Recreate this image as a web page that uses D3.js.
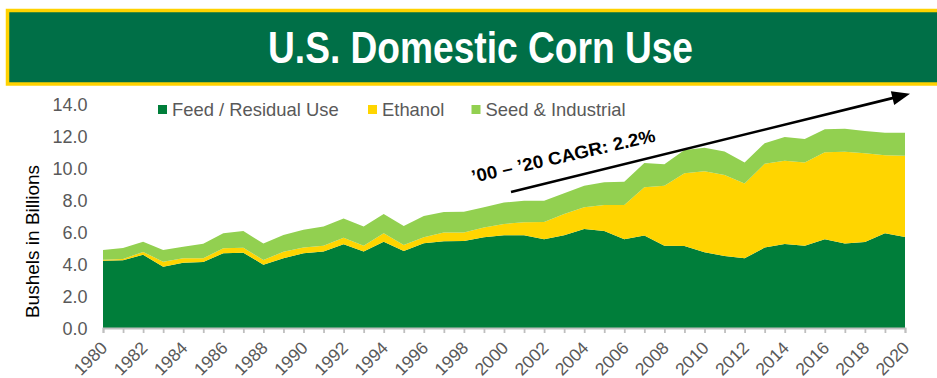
<!DOCTYPE html>
<html>
<head>
<meta charset="utf-8">
<script src="https://cdn.jsdelivr.net/npm/d3@7"></script>
<style>
  html, body { margin: 0; padding: 0; background: #ffffff; }
  svg { display: block; font-family: "Liberation Sans", Arial, sans-serif; }
</style>
</head>
<body>
<svg id="chart" width="937" height="378"></svg>
<script>
// U.S. domestic corn use by category, billions of bushels
const years = d3.range(1980, 2021);
const feedResidual = [4.20, 4.23, 4.58, 3.83, 4.08, 4.12, 4.67, 4.70, 3.95, 4.35,
                      4.67, 4.77, 5.23, 4.77, 5.39, 4.81, 5.29, 5.42, 5.43, 5.67,
                      5.79, 5.79, 5.54, 5.79, 6.18, 6.06, 5.54, 5.77, 5.14, 5.12,
                      4.73, 4.50, 4.35, 5.02, 5.25, 5.14, 5.54, 5.27, 5.37, 5.92, 5.68];
const ethanol = [0.06, 0.08, 0.17, 0.31, 0.27, 0.23, 0.31, 0.31, 0.29, 0.41,
                 0.35, 0.36, 0.41, 0.36, 0.52, 0.37, 0.37, 0.54, 0.54, 0.60,
                 0.71, 0.81, 1.08, 1.33, 1.36, 1.62, 2.14, 3.02, 3.75, 4.54,
                 5.06, 5.06, 4.68, 5.23, 5.20, 5.20, 5.43, 5.73, 5.54, 4.87, 5.08];
const seedIndustrial = [0.61, 0.69, 0.64, 0.73, 0.72, 0.91, 0.94, 1.04, 1.04, 1.04,
                        1.11, 1.21, 1.19, 1.21, 1.21, 1.19, 1.33, 1.29, 1.29, 1.27,
                        1.33, 1.34, 1.33, 1.29, 1.35, 1.42, 1.46, 1.51, 1.34, 1.46,
                        1.46, 1.46, 1.31, 1.29, 1.48, 1.46, 1.44, 1.44, 1.39, 1.41, 1.43];
const seriesNames = ["Feed / Residual Use", "Ethanol", "Seed & Industrial"];
const seriesColors = ["#007E3A", "#FFD500", "#92D050"];
const yTicks = [0, 2, 4, 6, 8, 10, 12, 14];
const xLabelYears = d3.range(1980, 2021, 2);
const titleText = "U.S. Domestic Corn Use";
const yAxisTitle = "Bushels in Billions";
const cagrText = "\u201900 \u2013 \u201920 CAGR: 2.2%";

const svg = d3.select("#chart");
const W = 937, H = 378;
svg.append("rect").attr("width", W).attr("height", H).attr("fill", "#ffffff");

// ---- title banner ----
svg.append("rect")
  .attr("x", 7.5).attr("y", 10.5).attr("width", 940).attr("height", 73.5)
  .attr("fill", "#006F47").attr("stroke", "#FFD200").attr("stroke-width", 3.5);
svg.append("text")
  .attr("x", 268).attr("y", 63)
  .attr("textLength", 425).attr("lengthAdjust", "spacingAndGlyphs")
  .attr("fill", "#ffffff")
  .style("font-family", "'Liberation Sans Narrow', 'Arial Narrow', 'Liberation Sans', Arial, sans-serif")
  .style("font-weight", "bold").style("font-size", "44px")
  .text(titleText);

// ---- scales ----
const x = d3.scaleLinear().domain([1980, 2020]).range([103, 905]);
const y = d3.scaleLinear().domain([0, 14]).range([328, 103.8]);

// ---- stacked areas ----
const rows = years.map((yr, i) => ({
  year: yr,
  feed: feedResidual[i],
  eth: ethanol[i],
  seed: seedIndustrial[i]
}));
const keys = ["feed", "eth", "seed"];
const stacked = d3.stack().keys(keys)(rows);
const area = d3.area()
  .x(d => x(d.data.year))
  .y0(d => y(d[0]))
  .y1(d => y(d[1]));

svg.append("g").selectAll("path")
  .data(stacked)
  .join("path")
  .attr("d", area)
  .attr("fill", (d, i) => seriesColors[i]);

// ---- x axis ----
const xAxis = d3.axisBottom(x)
  .tickValues(years)
  .tickSize(5)
  .tickFormat(d => (xLabelYears.includes(d) ? String(d) : ""));
const gx = svg.append("g").attr("transform", `translate(0,${y(0)})`).call(xAxis);
gx.select(".domain").attr("stroke", "#BFBFBF").attr("stroke-width", 1.8);
gx.selectAll(".tick line").attr("stroke", "#BFBFBF").attr("stroke-width", 1.8);
gx.selectAll(".tick text")
  .attr("fill", "#595959")
  .style("font-size", "17.5px")
  .style("font-family", "'Liberation Sans', Arial, sans-serif")
  .attr("text-anchor", "end")
  .attr("x", 0).attr("y", 0).attr("dy", 0)
  .attr("transform", "translate(5,21) rotate(-45)");

// ---- y axis ----
const yAxis = d3.axisLeft(y)
  .tickValues(yTicks)
  .tickSize(0)
  .tickPadding(0)
  .tickFormat(d3.format(".1f"));
const gy = svg.append("g").attr("transform", "translate(87.5,0)").call(yAxis);
gy.select(".domain").remove();
gy.selectAll(".tick text")
  .attr("fill", "#595959")
  .attr("dy", "0.36em")
  .style("font-size", "18px")
  .style("font-family", "'Liberation Sans', Arial, sans-serif");

svg.append("text")
  .attr("transform", "translate(39,241.5) rotate(-90)")
  .attr("text-anchor", "middle")
  .attr("fill", "#000000")
  .style("font-size", "19px")
  .text(yAxisTitle);

// ---- legend ----
const legendX = [158, 368, 471.5];
const legend = svg.append("g").selectAll("g")
  .data(seriesNames)
  .join("g")
  .attr("transform", (d, i) => `translate(${legendX[i]},0)`);
legend.append("rect")
  .attr("x", 0).attr("y", 105).attr("width", 9).attr("height", 9)
  .attr("fill", (d, i) => seriesColors[i]);
legend.append("text")
  .attr("x", 14).attr("y", 116)
  .attr("fill", "#595959")
  .style("font-size", "18.4px")
  .text(d => d);

// ---- growth arrow annotation ----
const a0 = [511, 192], a1 = [910, 93.8];
const len = Math.hypot(a1[0] - a0[0], a1[1] - a0[1]);
const ux = (a1[0] - a0[0]) / len, uy = (a1[1] - a0[1]) / len;
const headLen = 18, headHalf = 7;
const base = [a1[0] - ux * headLen, a1[1] - uy * headLen];
svg.append("line")
  .attr("x1", a0[0]).attr("y1", a0[1])
  .attr("x2", base[0] + ux * 2).attr("y2", base[1] + uy * 2)
  .attr("stroke", "#000000").attr("stroke-width", 2.6);
svg.append("polygon")
  .attr("points", [
    a1,
    [base[0] - uy * headHalf, base[1] + ux * headHalf],
    [base[0] + uy * headHalf, base[1] - ux * headHalf]
  ].map(p => p.join(",")).join(" "))
  .attr("fill", "#000000");

svg.append("text")
  .attr("transform", "translate(473,183) rotate(-12.8)")
  .attr("textLength", 188).attr("lengthAdjust", "spacingAndGlyphs")
  .attr("fill", "#000000")
  .style("font-size", "18px").style("font-weight", "bold")
  .text(cagrText);
</script>
</body>
</html>
